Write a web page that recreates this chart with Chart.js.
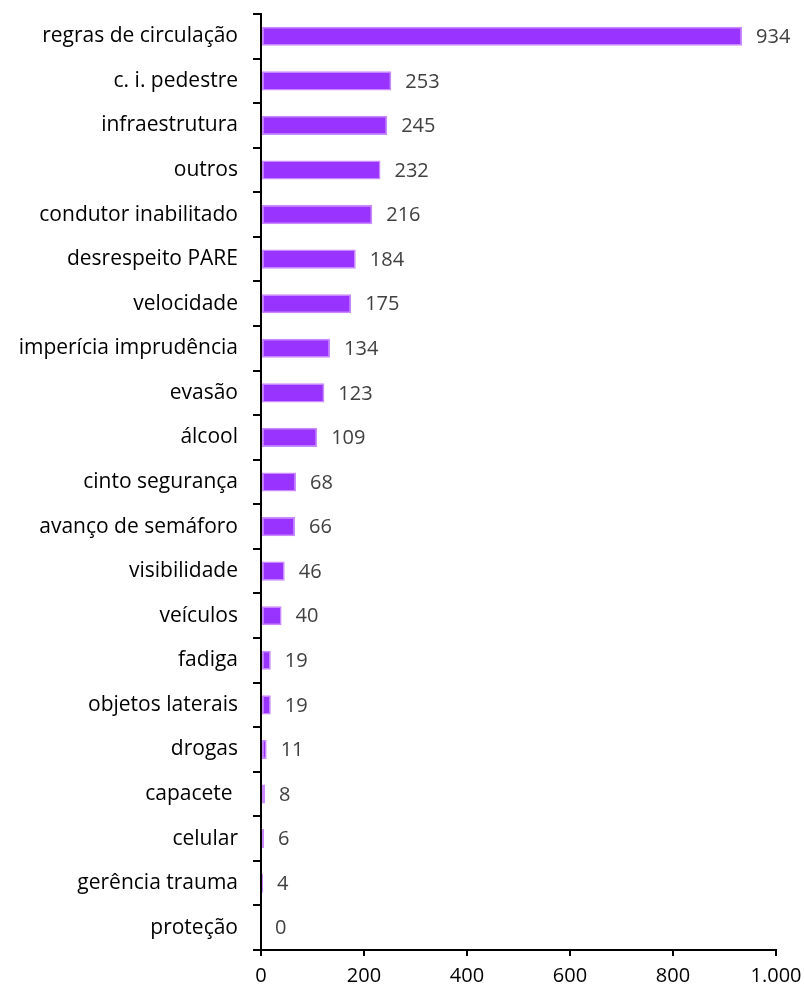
<!DOCTYPE html>
<html>
<head>
<meta charset="utf-8">
<script src="https://cdn.jsdelivr.net/npm/chart.js@4"></script>
<style>
  body { margin: 0; background: #fff; }
  #wrap { width: 804px; height: 990px; }
</style>
</head>
<body>
<div id="wrap"><canvas id="myChart" width="804" height="990"></canvas></div>
<script>
const categories = [
  "regras de circulação", "c. i. pedestre", "infraestrutura", "outros",
  "condutor inabilitado", "desrespeito PARE", "velocidade", "imperícia imprudência",
  "evasão", "álcool", "cinto segurança", "avanço de semáforo", "visibilidade",
  "veículos", "fadiga", "objetos laterais", "drogas", "capacete ", "celular",
  "gerência trauma", "proteção"
];
const values = [934, 253, 245, 232, 216, 184, 175, 134, 123, 109, 68, 66, 46, 40, 19, 19, 11, 8, 6, 4, 0];
const xTicks = [0, 200, 400, 600, 800, 1000];

const fontFamily = "'Open Sans', sans-serif";

// value labels to the right of each bar
const valueLabels = {
  id: 'valueLabels',
  afterDatasetsDraw(chart) {
    const ctx = chart.ctx;
    const meta = chart.getDatasetMeta(0);
    ctx.save();
    ctx.font = "20px " + fontFamily;
    ctx.fillStyle = "#404040";
    ctx.textBaseline = "middle";
    ctx.textAlign = "left";
    meta.data.forEach((bar, i) => {
      ctx.fillText(String(values[i]), bar.x + 14, bar.y + 1);
    });
    ctx.restore();
  }
};

const ctx = document.getElementById('myChart').getContext('2d');
const myChart = new Chart(ctx, {
  type: 'bar',
  data: {
    labels: categories,
    datasets: [{
      data: values,
      backgroundColor: '#9933FF',
      borderColor: '#CC88FF',
      borderWidth: 1.5,
      borderSkipped: false,
      categoryPercentage: 1,
      barPercentage: 0.43
    }]
  },
  options: {
    indexAxis: 'y',
    responsive: false,
    animation: false,
    layout: { padding: { top: 14, right: 28, left: 0, bottom: 0 } },
    plugins: {
      legend: { display: false },
      tooltip: { enabled: false }
    },
    scales: {
      x: {
        min: 0,
        max: 1000,
        afterBuildTicks(scale) {
          scale.ticks = xTicks.map(v => ({ value: v }));
        },
        afterFit(scale) {
          scale.height = 40;
          scale.paddingLeft = 0;
          scale.paddingRight = 0;
        },
        border: { display: true, color: '#000', width: 2 },
        grid: { drawOnChartArea: false, drawTicks: true, tickLength: 6, color: '#000', lineWidth: 2 },
        ticks: {
          padding: 8,
          color: '#000',
          maxRotation: 0,
          font: { family: fontFamily, size: 20 },
          callback: v => v.toLocaleString('pt-BR')
        }
      },
      y: {
        afterFit(scale) {
          scale.width = 261;
          scale.paddingTop = 0;
          scale.paddingBottom = 0;
        },
        border: { display: true, color: '#000', width: 2 },
        grid: { offset: true, drawOnChartArea: false, drawTicks: true, tickLength: 8, color: '#000', lineWidth: 2 },
        ticks: {
          padding: 15,
          color: '#000',
          autoSkip: false,
          font: { family: fontFamily, size: 21 }
        }
      }
    }
  },
  plugins: [valueLabels]
});
</script>
</body>
</html>
